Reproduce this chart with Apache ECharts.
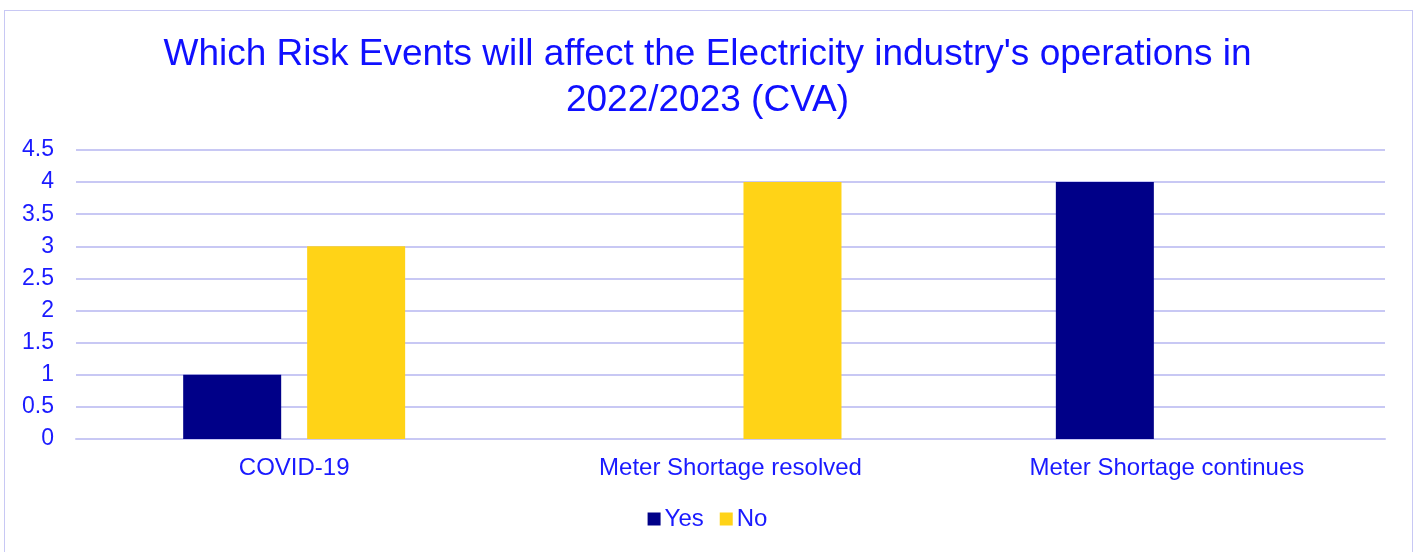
<!DOCTYPE html>
<html>
<head>
<meta charset="utf-8">
<script src="https://cdn.jsdelivr.net/npm/echarts@6/dist/echarts.min.js"></script>
<style>
  html, body { margin: 0; padding: 0; background: #fff; }
  #frame { position: absolute; left: 4px; top: 10px; width: 1409px; height: 560px; border: 1px solid #c8c8f4; box-sizing: border-box; }
  #chart { position: absolute; left: 0; top: 0; width: 1415px; height: 552px; }
</style>
</head>
<body>
<div id="frame"></div>
<div id="chart"></div>
<script>
const titleText = "Which Risk Events will affect the Electricity industry's operations in\n2022/2023 (CVA)"
const categories = ['COVID-19', 'Meter Shortage resolved', 'Meter Shortage continues']
const yesValues = [1, 0, 4]
const noValues = [3, 4, 0]

const textBlue = '#1a1aff'
const gridColor = '#c8c8f4'

const chart = echarts.init(document.getElementById('chart'))

const option = {
  animation: false,
  title: {
    text: titleText,
    left: 'center',
    top: 27,
    textStyle: {
      color: '#1010ff',
      fontFamily: 'Liberation Sans, Arial, sans-serif',
      fontWeight: 'normal',
      fontSize: 37,
      lineHeight: 46
    }
  },
  legend: {
    bottom: 16,
    left: 'center',
    itemWidth: 13,
    itemHeight: 13,
    itemGap: 16,
    icon: 'rect',
    textStyle: {
      color: textBlue,
      fontFamily: 'Liberation Sans, Arial, sans-serif',
      fontSize: 24,
      padding: [0, 0, 0, -1]
    },
    data: ['Yes', 'No']
  },
  grid: {
    left: 76,
    right: 30,
    top: 150,
    bottom: 113,
    containLabel: false
  },
  xAxis: {
    type: 'category',
    data: categories,
    axisTick: { show: false },
    axisLine: { lineStyle: { color: gridColor, width: 2 } },
    axisLabel: {
      color: textBlue,
      fontFamily: 'Liberation Sans, Arial, sans-serif',
      fontSize: 24,
      margin: 17
    }
  },
  yAxis: {
    type: 'value',
    min: 0,
    max: 4.5,
    interval: 0.5,
    axisLine: { show: false },
    axisTick: { show: false },
    axisLabel: {
      color: textBlue,
      fontFamily: 'Liberation Sans, Arial, sans-serif',
      fontSize: 23,
      margin: 22
    },
    splitLine: { lineStyle: { color: gridColor, width: 2 } }
  },
  series: [
    {
      name: 'Yes',
      type: 'bar',
      data: yesValues,
      barWidth: 98,
      barGap: '26.5%',
      itemStyle: { color: '#000088' }
    },
    {
      name: 'No',
      type: 'bar',
      data: noValues,
      barWidth: 98,
      itemStyle: { color: '#ffd317' }
    }
  ]
}

chart.setOption(option)
window.addEventListener('resize', () => chart.resize())
</script>
</body>
</html>
